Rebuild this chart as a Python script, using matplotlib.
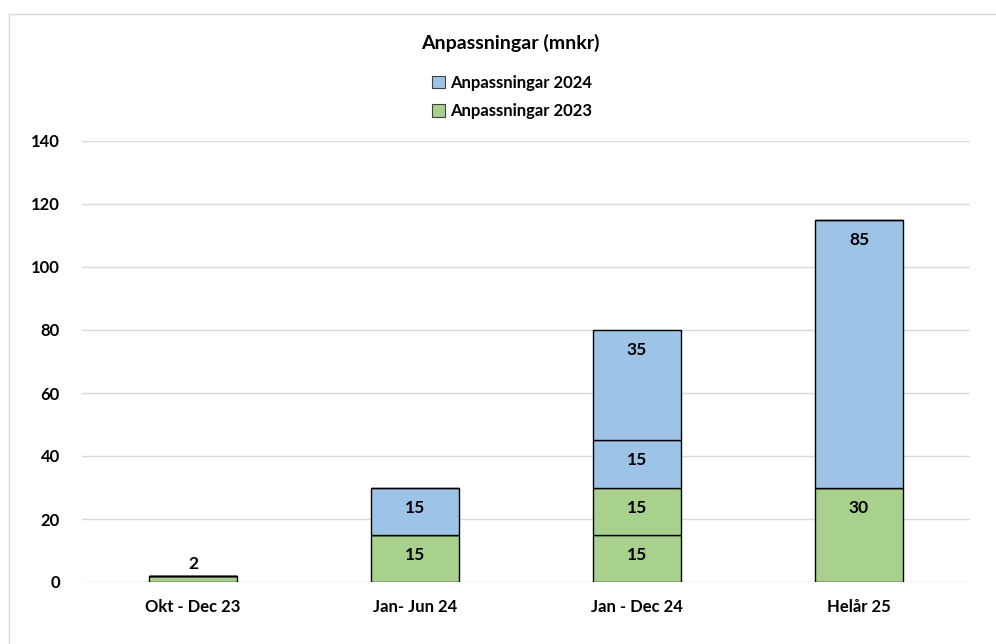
import numpy as np
import matplotlib.pyplot as plt
from matplotlib.patches import Rectangle

plt.rcParams['font.family'] = ['Lato', 'DejaVu Sans']
plt.rcParams['font.weight'] = 'bold'

kategorier = ['Okt - Dec 23', 'Jan- Jun 24', 'Jan - Dec 24', 'Helår 25']
# staplade segment, nerifrån och upp
gron_1 = [2, 15, 15, 30]
gron_2 = [0, 0, 15, 0]
bla_1 = [0, 15, 15, 85]
bla_2 = [0, 0, 35, 0]

bla = '#9DC3E6'
gron = '#A9D18E'

fig = plt.figure(figsize=(9.96, 6.44), dpi=100)
ax = fig.add_axes([82/996, 1-582/644, (970-82)/996, (582-141)/644])

# ram runt diagrammet
fig.patches.append(Rectangle((9/996, -0.1), 1.2, 1.1 - 13.5/644,
                             transform=fig.transFigure, fill=False,
                             edgecolor='#D9D9D9', linewidth=1.0))

x = np.arange(len(kategorier))
w = 0.4
segment = [(gron_1, gron), (gron_2, gron), (bla_1, bla), (bla_2, bla)]
botten = np.zeros(len(kategorier))
for varden, farg in segment:
    v = np.array(varden, dtype=float)
    ax.bar(x, v, w, bottom=botten, color=farg, edgecolor='black',
           linewidth=1.0, zorder=3)
    for i in range(len(x)):
        if v[i] > 5:
            # etikett vid segmentets övre kant (inside end)
            ax.annotate(f'{int(v[i])}', (x[i], botten[i] + v[i]),
                        xytext=(0, -14.5), textcoords='offset points',
                        ha='center', va='center', fontsize=12.5,
                        fontweight='bold', zorder=4)
        elif v[i] > 0:
            ax.text(x[i], botten[i] + v[i] + 1.2, f'{int(v[i])}', ha='center',
                    va='bottom', fontsize=12.5, fontweight='bold', zorder=4)
    botten += v

ax.set_xlim(-0.5, len(kategorier) - 0.5)
ax.set_ylim(0, 140)
ax.set_yticks(np.arange(0, 141, 20))
ax.set_xticks(x)
ax.set_xticklabels(kategorier)
ax.tick_params(length=0, labelsize=12, pad=12)
ax.tick_params(axis='y', pad=16)
for lab in ax.get_xticklabels() + ax.get_yticklabels():
    lab.set_fontweight('bold')
ax.grid(axis='y', color='#D9D9D9', linewidth=1.0, zorder=0)
for s in ax.spines.values():
    s.set_visible(False)

fig.text(510/996, 1-43/644, 'Anpassningar (mnkr)', ha='center', va='center',
         fontsize=14, fontweight='bold')

h1 = Rectangle((0, 0), 1, 1, facecolor=bla, edgecolor='#404040', linewidth=0.8)
h2 = Rectangle((0, 0), 1, 1, facecolor=gron, edgecolor='#404040', linewidth=0.8)
fig.legend([h1, h2], ['Anpassningar 2024', 'Anpassningar 2023'],
           loc='center', bbox_to_anchor=(512/996, 1-97/644), frameon=False,
           handlelength=0.8, handleheight=0.8, handletextpad=0.3,
           labelspacing=0.75, prop={'weight': 'bold', 'size': 12})

fig.savefig('out.png', dpi=100)
